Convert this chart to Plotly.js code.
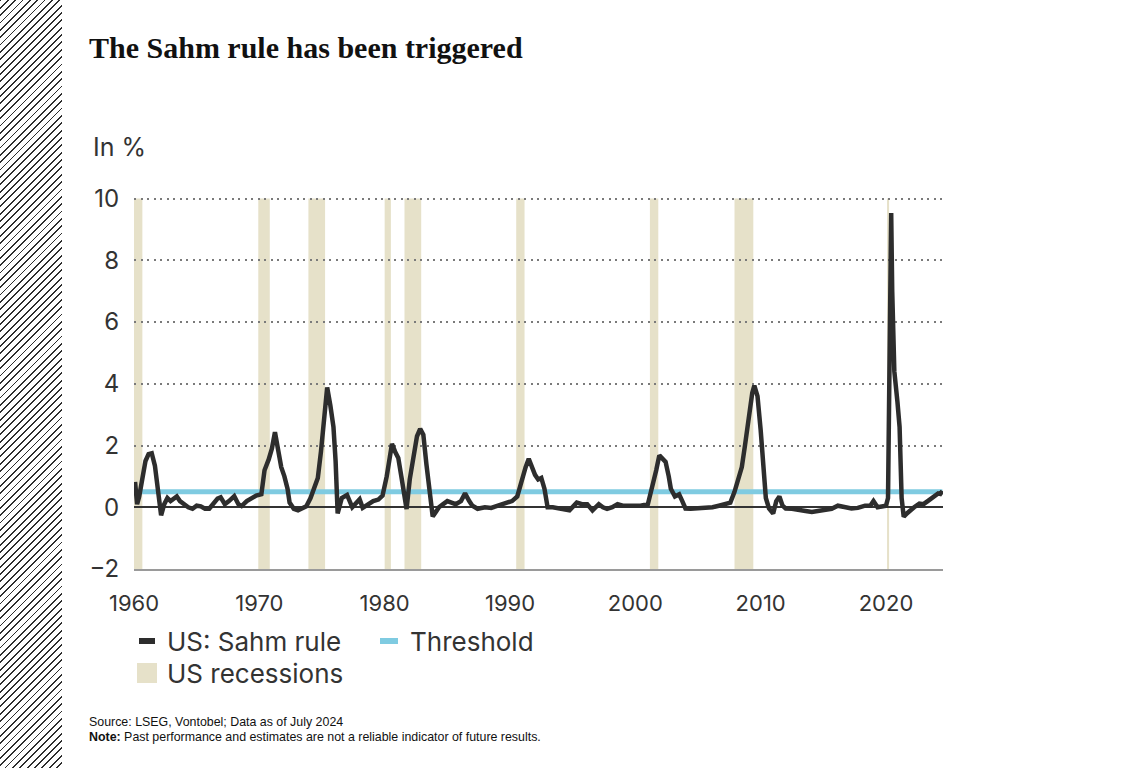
<!DOCTYPE html>
<html>
<head>
<meta charset="utf-8">
<script src="https://cdn.plot.ly/plotly-3.0.1.min.js"></script>
<style>
  html, body { margin: 0; padding: 0; background: #ffffff; }
  #chart { position: absolute; left: 0; top: 0; width: 1122px; height: 768px; }
  #hatch {
    position: absolute; left: 0; top: 0; width: 62px; height: 768px; z-index: 5;
    pointer-events: none;
    background: repeating-linear-gradient(135deg, #2e2e2e 0px, #2e2e2e 1.3px, #ffffff 1.3px, #ffffff 5.2px);
  }
</style>
</head>
<body>
<div id="chart"></div>
<div id="hatch"></div>
<script>
// US Sahm rule indicator (percentage points), monthly observations
const sahmDates = [
  '1960-02','1960-04','1960-06','1960-09','1960-12','1961-03','1961-06','1961-09','1961-12',
  '1962-03','1962-06','1962-09','1962-12','1963-03','1963-06','1963-09','1964-01','1964-05','1964-09',
  '1965-01','1965-05','1965-09','1966-01','1966-05','1966-09','1966-12','1967-04','1967-08',
  '1968-01','1968-05','1968-08','1969-01','1969-06','1969-10','1970-03','1970-06','1970-10',
  '1971-01','1971-04','1971-07','1971-10','1972-01','1972-04','1972-06','1972-10','1973-02',
  '1973-06','1973-10','1974-02','1974-05','1974-09','1974-12','1975-03','1975-06','1975-09',
  '1975-12','1976-02','1976-04','1976-08','1977-01','1977-06','1977-10','1978-01','1978-04',
  '1978-09','1979-02','1979-07','1979-11','1980-03','1980-06','1980-08','1980-11','1981-02',
  '1981-05','1981-07','1981-10','1982-01','1982-04','1982-08','1982-11','1983-02','1983-05',
  '1983-08','1983-11','1984-02','1984-05','1984-09','1985-01','1985-05','1985-09','1986-02',
  '1986-06','1986-10','1987-01','1987-06','1988-01','1988-07','1989-02','1989-08','1990-03',
  '1990-08','1990-12','1991-04','1991-07','1991-10','1992-01','1992-04','1992-07','1992-10',
  '1993-01','1993-06','1994-01','1994-06','1994-10','1995-05','1995-10','1996-03','1996-08',
  '1997-02','1997-06','1997-10','1998-03','1998-08','1999-01','1999-06','2000-01','2000-06',
  '2001-01','2001-05','2001-09','2001-12','2002-03','2002-06','2002-09','2002-11','2003-03',
  '2003-07','2003-10','2004-01','2004-06','2004-11','2005-04','2005-09','2006-03','2006-09',
  '2007-03','2007-08','2007-12','2008-04','2008-07','2008-10','2009-02','2009-05','2009-07',
  '2009-10','2010-01','2010-04','2010-06','2010-09','2011-01','2011-04','2011-07','2011-10',
  '2012-01','2012-07','2013-01','2013-08','2014-02','2014-08','2015-03','2015-09','2016-03',
  '2016-09','2017-04','2017-10','2018-05','2018-10','2019-01','2019-05','2019-10','2020-01',
  '2020-03','2020-04','2020-05','2020-06','2020-07','2020-08','2020-09','2020-12','2021-02',
  '2021-04','2021-06','2021-09','2021-12','2022-04','2022-09','2023-01','2023-05','2023-09',
  '2023-12','2024-03','2024-05','2024-07'
];
const sahmValues = [
  0.82, 0.10, 0.35, 0.90, 1.50, 1.72, 1.75, 1.35, 0.50,
  -0.26, 0.10, 0.30, 0.20, 0.28, 0.35, 0.20, 0.10, 0.00, -0.05,
  0.05, 0.03, -0.05, -0.05, 0.10, 0.28, 0.32, 0.10, 0.20,
  0.36, 0.10, 0.04, 0.20, 0.30, 0.38, 0.42, 1.20, 1.55,
  1.90, 2.43, 1.80, 1.30, 1.00, 0.60, 0.15, -0.05, -0.10,
  -0.02, 0.03, 0.30, 0.60, 0.95, 1.80, 3.00, 3.88, 3.30,
  2.60, 1.50, -0.20, 0.30, 0.40, 0.00, 0.15, 0.26, -0.02,
  0.10, 0.20, 0.25, 0.38, 1.00, 1.80, 2.05, 1.80, 1.60,
  1.00, 0.50, -0.06, 0.90, 1.60, 2.30, 2.54, 2.35, 1.40,
  0.50, -0.30, -0.15, 0.00, 0.10, 0.20, 0.15, 0.10, 0.20,
  0.45, 0.20, 0.05, -0.05, 0.00, -0.02, 0.05, 0.10, 0.20,
  0.35, 0.90, 1.30, 1.57, 1.30, 1.05, 0.90, 0.95, 0.60,
  0.00, 0.00, -0.05, -0.05, -0.10, 0.15, 0.10, 0.10, -0.10,
  0.10, 0.00, -0.05, 0.00, 0.10, 0.05, 0.05, 0.05, 0.05,
  0.10, 0.60, 1.20, 1.68, 1.55, 1.47, 1.00, 0.60, 0.35,
  0.42, 0.20, -0.04, -0.05, -0.04, 0.00, 0.00, 0.00, 0.05,
  0.10, 0.15, 0.50, 0.90, 1.30, 2.00, 3.00, 3.70, 3.94,
  3.60, 2.50, 1.00, 0.30, -0.04, -0.20, 0.20, 0.35, 0.05,
  -0.04, -0.05, -0.10, -0.12, -0.15, -0.12, -0.05, -0.05, 0.05,
  0.00, -0.04, -0.02, 0.05, 0.05, 0.20, 0.00, 0.02, 0.05,
  0.30, 4.00, 7.50, 9.53, 7.00, 5.20, 4.40, 3.40, 2.60,
  0.30, -0.31, -0.20, -0.10, 0.00, 0.12, 0.10, 0.20, 0.30,
  0.35, 0.45, 0.43, 0.53
];

// Recession trigger level
const thresholdValue = 0.5;
const thresholdDates = ['1960-01', '2024-07'];

// NBER recession periods
const recessionStart = ['1960-01','1969-12','1973-12','1980-01','1981-08','1990-07','2001-03','2007-12','2020-02'];
const recessionEnd   = ['1960-09','1970-11','1975-04','1980-07','1982-12','1991-03','2001-11','2009-06','2020-04'];

// Axis ticks
const yTicks = [-2, 0, 2, 4, 6, 8, 10];
const xTickDates = ['1960-01-01','1970-01-01','1980-01-01','1990-01-01','2000-01-01','2010-01-01','2020-01-01'];
const xTickLabels = ['1960','1970','1980','1990','2000','2010','2020'];

// Text
const titleText = 'The Sahm rule has been triggered';
const unitText = 'In %';
const legendLabels = ['US: Sahm rule', 'Threshold', 'US recessions'];
const sourceText = 'Source: LSEG, Vontobel; Data as of July 2024';
const noteText = '<b>Note:</b> Past performance and estimates are not a reliable indicator of future results.';

const W = 1122, H = 768;
const M = { l: 134, r: 179, t: 197, b: 199 };
const plotW = W - M.l - M.r, plotH = H - M.t - M.b;
const px = x => (x - M.l) / plotW;          // page x -> paper x
const py = y => (H - M.b - y) / plotH;      // page y -> paper y

const ink = '#2d2d2d';
const blue = '#7fcbe1';
const beige = '#e6e1c9';
const sans = 'Inter, Roboto, sans-serif';
const grey = '#333333';

const shapes = recessionStart.map((s, i) => ({
  type: 'rect', xref: 'x', yref: 'y', x0: s, x1: recessionEnd[i], y0: -2, y1: 10,
  fillcolor: beige, line: { width: 0 }, layer: 'below'
}));

// Legend swatches
shapes.push(
  { type: 'line', xref: 'paper', yref: 'paper', x0: px(139), x1: px(155), y0: py(641), y1: py(641),
    line: { color: ink, width: 6 } },
  { type: 'line', xref: 'paper', yref: 'paper', x0: px(380), x1: px(398), y0: py(641), y1: py(641),
    line: { color: blue, width: 6 } },
  { type: 'rect', xref: 'paper', yref: 'paper', x0: px(137), x1: px(157), y0: py(683), y1: py(663),
    fillcolor: beige, line: { width: 0 } }
);

const legendFont = { family: sans, size: 26, color: grey };
const smallFont = { family: 'Liberation Sans, Arial, sans-serif', size: 12.4, color: '#111111' };
const annotations = [
  { text: unitText, xref: 'paper', yref: 'paper', x: px(91), y: py(147), xanchor: 'left', yanchor: 'middle',
    showarrow: false, font: { family: sans, size: 25, color: grey } },
  { text: legendLabels[0], xref: 'paper', yref: 'paper', x: px(165), y: py(641), xanchor: 'left', yanchor: 'middle',
    showarrow: false, font: legendFont },
  { text: legendLabels[1], xref: 'paper', yref: 'paper', x: px(408), y: py(641), xanchor: 'left', yanchor: 'middle',
    showarrow: false, font: legendFont },
  { text: legendLabels[2], xref: 'paper', yref: 'paper', x: px(165), y: py(673), xanchor: 'left', yanchor: 'middle',
    showarrow: false, font: legendFont },
  { text: sourceText, xref: 'paper', yref: 'paper', x: px(87), y: py(722), xanchor: 'left', yanchor: 'middle',
    showarrow: false, font: smallFont },
  { text: noteText, xref: 'paper', yref: 'paper', x: px(87), y: py(737), xanchor: 'left', yanchor: 'middle',
    showarrow: false, font: smallFont }
];

const traces = [
  { type: 'scatter', mode: 'lines', name: legendLabels[1], x: thresholdDates, y: thresholdDates.map(() => thresholdValue),
    line: { color: blue, width: 5 }, hoverinfo: 'skip' },
  { type: 'scatter', mode: 'lines', name: legendLabels[0], x: sahmDates, y: sahmValues,
    line: { color: ink, width: 4.5, shape: 'linear' } }
];

const layout = {
  width: W, height: H, margin: M,
  paper_bgcolor: 'rgba(0,0,0,0)', plot_bgcolor: 'rgba(0,0,0,0)',
  showlegend: false,
  title: { text: titleText, xref: 'container', yref: 'container', x: 89 / W, xanchor: 'left',
    y: 1 - 47 / H, yanchor: 'middle',
    font: { family: 'Liberation Serif, Times New Roman, serif', size: 30, weight: 'bold', color: '#111111' } },
  xaxis: {
    type: 'date', range: ['1960-01-01', '2024-07-20'],
    tickmode: 'array', tickvals: xTickDates, ticktext: xTickLabels,
    showgrid: false, zeroline: false,
    showline: true, linecolor: '#9a9a9a', linewidth: 2,
    ticks: 'outside', ticklen: 14, tickcolor: 'rgba(0,0,0,0)',
    tickfont: { family: sans, size: 22, color: grey }
  },
  yaxis: {
    range: [-2, 10.05], tickmode: 'array', tickvals: yTicks,
    showgrid: true, gridcolor: '#7a7a7a', gridwidth: 2, griddash: '2px,4.5px',
    zeroline: true, zerolinecolor: grey, zerolinewidth: 1.6,
    showline: false,
    ticks: 'outside', ticklen: 9, tickcolor: 'rgba(0,0,0,0)',
    tickfont: { family: sans, size: 24, color: grey }
  },
  shapes: shapes,
  annotations: annotations
};

Plotly.newPlot('chart', traces, layout, { staticPlot: true, displayModeBar: false });
</script>
</body>
</html>
